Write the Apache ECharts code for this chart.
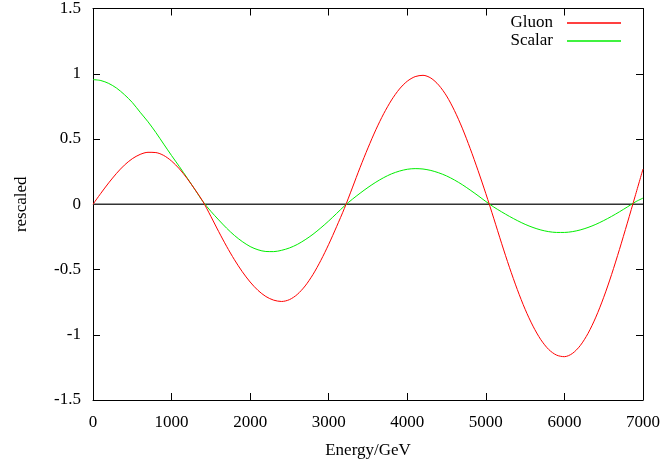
<!DOCTYPE html>
<html>
<head>
<meta charset="utf-8">
<script src="https://cdn.jsdelivr.net/npm/echarts@6/dist/echarts.min.js"></script>
<style>html,body{margin:0;padding:0;background:#fff}#c{width:665px;height:464px}</style>
</head>
<body>
<div id="c"></div>
<script>
var energy = [0,100,200,300,400,500,600,700,800,900,
  1000,1100,1200,1300,1400,1500,1600,1700,1800,1900,
  2000,2100,2200,2300,2400,2500,2600,2700,2800,2900,
  3000,3100,3200,3300,3400,3500,3600,3700,3800,3900,
  4000,4100,4200,4300,4400,4500,4600,4700,4800,4900,
  5000,5100,5200,5300,5400,5500,5600,5700,5800,5900,
  6000,6100,6200,6300,6400,6500,6600,6700,6800,6900,7000];
var gluon = [0,0.084,0.164,0.237,0.300,0.349,0.382,0.398,0.396,0.374,
  0.331,0.271,0.196,0.111,0.020,-0.093,-0.210,-0.322,-0.425,-0.517,
  -0.596,-0.660,-0.707,-0.735,-0.745,-0.731,-0.691,-0.626,-0.538,-0.430,
  -0.307,-0.172,-0.031,0.125,0.283,0.432,0.571,0.694,0.799,0.883,
  0.943,0.978,0.988,0.967,0.913,0.830,0.718,0.583,0.428,0.259,
  0.081,-0.107,-0.299,-0.483,-0.653,-0.805,-0.934,-1.038,-1.113,-1.156,
  -1.168,-1.144,-1.084,-0.990,-0.865,-0.713,-0.539,-0.347,-0.145,0.062,0.27];
var scalar = [0.955,0.948,0.926,0.890,0.840,0.780,0.705,0.632,0.550,0.461,
  0.373,0.288,0.200,0.110,0.020,-0.054,-0.120,-0.183,-0.239,-0.286,
  -0.324,-0.349,-0.362,-0.363,-0.353,-0.335,-0.308,-0.272,-0.230,-0.181,
  -0.128,-0.071,-0.013,0.038,0.085,0.129,0.169,0.204,0.233,0.254,
  0.268,0.273,0.270,0.259,0.241,0.217,0.186,0.150,0.109,0.066,
  0.021,-0.021,-0.058,-0.093,-0.125,-0.154,-0.178,-0.197,-0.210,-0.216,
  -0.216,-0.210,-0.197,-0.178,-0.154,-0.125,-0.093,-0.058,-0.021,0.017,0.047];
var zeroLine = [[0,0],[7000,0]];
var xTicks = [0,1000,2000,3000,4000,5000,6000,7000];
var yTicks = [-1.5,-1,-0.5,0,0.5,1,1.5];

function pairs(xs, ys){ return xs.map(function(x,i){return [x, ys[i]];}); }

var font = '"Liberation Serif","Times New Roman",serif';
var chart = echarts.init(document.getElementById('c'), null, {renderer:'canvas'});
var axisCommon = {
  axisLine:{show:true, onZero:false, lineStyle:{color:'#000', width:1}},
  axisTick:{show:true, inside:true, length:7, lineStyle:{color:'#000', width:1}},
  splitLine:{show:false},
  minorTick:{show:false}
};
chart.setOption({
  animation:false,
  backgroundColor:'#fff',
  textStyle:{fontFamily:font},
  grid:{left:93, right:22, top:4, bottom:64, containLabel:false},
  legend:{
    orient:'vertical', right:39, top:9, align:'right',
    itemWidth:54, itemHeight:1.5, itemGap:0,
    textStyle:{fontFamily:font, fontSize:17, color:'#000', lineHeight:18, padding:[0,9,0,0]},
    data:[{name:'Gluon', icon:'rect'},{name:'Scalar', icon:'rect'}]
  },
  xAxis:[
    Object.assign({type:'value', position:'bottom', min:xTicks[0], max:xTicks[xTicks.length-1], interval:1000,
      name:'Energy/GeV', nameLocation:'middle', nameGap:42,
      nameTextStyle:{fontFamily:font, fontSize:17, color:'#000'},
      axisLabel:{fontFamily:font, fontSize:17, color:'#000', margin:14, formatter:function(v){return String(v);}}}, axisCommon),
    Object.assign({type:'value', position:'top', min:xTicks[0], max:xTicks[xTicks.length-1], interval:1000,
      axisLabel:{show:false}}, axisCommon)
  ],
  yAxis:[
    Object.assign({type:'value', position:'left', min:yTicks[0], max:yTicks[yTicks.length-1], interval:0.5,
      name:'rescaled', nameLocation:'middle', nameGap:63, nameRotate:90,
      nameTextStyle:{fontFamily:font, fontSize:17, color:'#000'},
      axisLabel:{fontFamily:font, fontSize:17, color:'#000', margin:12, formatter:function(v){return String(v);}}}, axisCommon),
    Object.assign({type:'value', position:'right', min:yTicks[0], max:yTicks[yTicks.length-1], interval:0.5,
      axisLabel:{show:false}}, axisCommon)
  ],
  series:[
    {name:'zero', type:'line', data:zeroLine, symbol:'none', silent:true,
      lineStyle:{color:'#333', width:1.5}, z:1},
    {name:'Gluon', type:'line', data:pairs(energy, gluon), symbol:'none', smooth:0.3,
      lineStyle:{color:'#ff0000', width:1}, itemStyle:{color:'#ff0000'}, z:3},
    {name:'Scalar', type:'line', data:pairs(energy, scalar), symbol:'none', smooth:0.3,
      lineStyle:{color:'#00ee00', width:1}, itemStyle:{color:'#00ee00'}, z:2}
  ]
});
</script>
</body>
</html>
